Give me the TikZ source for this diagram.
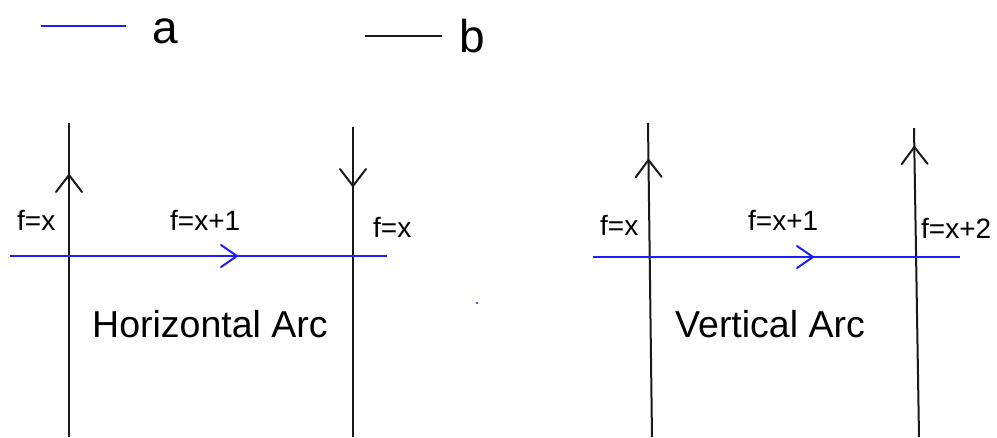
\documentclass[tikz,border=0pt]{standalone}
\usepackage{fontspec}
\setmainfont{Liberation Sans}
\usetikzlibrary{decorations.markings}
\definecolor{arcblue}{RGB}{30,30,255}
\tikzset{
  line/.style={line width=2pt, line cap=butt},
  blackline/.style={line, black!90},
  blueline/.style={line, arcblue},
  midarrow/.style={postaction={decorate, decoration={markings,
     mark=at position #1 with {\draw[line width=2pt, line cap=round, line join=miter] (-17pt,-13pt) -- (0pt,0pt) -- (-17pt,13pt);}}}},
  harrow/.style={postaction={decorate, decoration={markings,
     mark=at position #1 with {\draw[line width=2pt, line cap=round, arcblue] (-16pt,-11pt) -- (0pt,0pt) -- (-16pt,11pt);}}}},
  lbl/.style={anchor=base west, inner sep=0pt, font=\fontsize{28}{30}\selectfont},
  title/.style={anchor=base west, inner sep=0pt, font=\fontsize{37.5}{40}\selectfont},
  legend/.style={anchor=base west, inner sep=0pt, font=\fontsize{46}{50}\selectfont},
}
\begin{document}
\begin{tikzpicture}[x=1pt, y=-1pt]
\useasboundingbox (0,0) rectangle (997,437);
% legend
\coordinate (la1) at (41,26);
\coordinate (la2) at (126,26);
\draw[blueline] (la1) -- (la2);
\node[legend] (la) at (152,43) {a};
\coordinate (lb1) at (365,36);
\coordinate (lb2) at (442,36);
\draw[blackline] (lb1) -- (lb2);
\node[legend] (lb) at (459,52) {b};
% left diagram
\coordinate (L1b) at (69,437);
\coordinate (L1t) at (69,123);
\coordinate (L2t) at (353,127);
\coordinate (L2b) at (353,437);
\coordinate (LHl) at (10,256);
\coordinate (LHr) at (387,256);
\draw[blackline, midarrow=262pt] (L1b) -- (L1t);
\draw[blackline, midarrow=59pt] (L2t) -- (L2b);
\draw[blueline, harrow=227pt] (LHl) -- (LHr);
\node[lbl] (lfx1) at (17,230) {f=x};
\node[lbl] (lfx2) at (170,230) {f=x+1};
\node[lbl] (lfx3) at (373,237) {f=x};
\node[title] (ht) at (92,337) {Horizontal Arc};
% right diagram
\coordinate (R1b) at (652,437);
\coordinate (R1t) at (648,123);
\coordinate (R2b) at (919,437);
\coordinate (R2t) at (914,128);
\coordinate (RHl) at (593,257);
\coordinate (RHr) at (960,257);
\draw[blackline, midarrow=277pt] (R1b) -- (R1t);
\draw[blackline, midarrow=290pt] (R2b) -- (R2t);
\draw[blueline, harrow=220pt] (RHl) -- (RHr);
\node[lbl] (rfx1) at (600,235) {f=x};
\node[lbl] (rfx2) at (748,230) {f=x+1};
\node[lbl] (rfx3) at (921,238) {f=x+2};
\node[title] (vt) at (675,337) {Vertical Arc};
% stray dot
\fill[arcblue] (477,303) circle (1.2);
\end{tikzpicture}
\end{document}
